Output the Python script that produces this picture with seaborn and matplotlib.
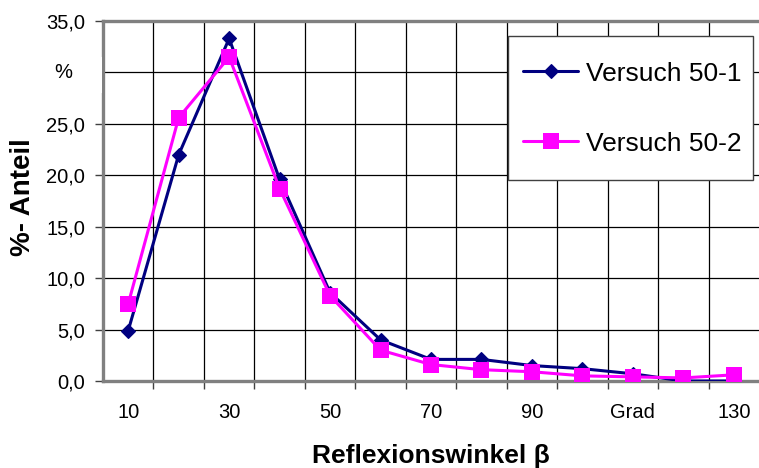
import matplotlib
matplotlib.use("Agg")
import matplotlib.pyplot as plt
import seaborn as sns
from matplotlib.patches import Rectangle
from matplotlib.transforms import blended_transform_factory

# Reflection angle categories (degrees) and share per angle in percent
angles = [10, 20, 30, 40, 50, 60, 70, 80, 90, 100, 110, 120, 130]
versuch_50_1 = [4.9, 22.0, 33.3, 19.6, 8.6, 4.0, 2.1, 2.1, 1.5, 1.2, 0.7, 0.0, 0.0]
versuch_50_2 = [7.5, 25.6, 31.5, 18.7, 8.3, 3.0, 1.6, 1.1, 0.9, 0.5, 0.4, 0.3, 0.6]

x_label_pos = [10, 30, 50, 70, 90, 110, 130]
x_labels = ["10", "30", "50", "70", "90", "Grad", "130"]
y_ticks = [0, 5, 10, 15, 20, 25, 30, 35]
y_labels = ["0,0", "5,0", "10,0", "15,0", "20,0", "25,0", "", "35,0"]

sns.set_theme(style="white")
plt.rcParams["font.family"] = ["Liberation Sans", "DejaVu Sans"]
plt.rcParams["text.color"] = "black"
plt.rcParams["axes.labelcolor"] = "black"
plt.rcParams["xtick.color"] = "black"
plt.rcParams["ytick.color"] = "black"

W, H = 759, 468
fig = plt.figure(figsize=(W / 100, H / 100), dpi=100)
ax = fig.add_axes([103 / W, (H - 381) / H, 656 / W, 360 / H])

navy = "#000080"
magenta = "#FF00FF"

sns.lineplot(x=angles, y=versuch_50_1, ax=ax, color=navy, lw=2.2,
             marker="D", markersize=7, markeredgewidth=0.8,
             markeredgecolor=navy, label="Versuch 50-1", zorder=4)
sns.lineplot(x=angles, y=versuch_50_2, ax=ax, color=magenta, lw=2.2,
             marker="s", markersize=11, markeredgewidth=0,
             label="Versuch 50-2", zorder=5)

ax.set_xlim(5, 135)
ax.set_ylim(0, 35)

# category boundaries carry the vertical grid and the small tick marks
boundaries = [a + 5 for a in angles[:-1]]
ax.set_xticks(boundaries, minor=True)
ax.set_xticks(x_label_pos)
ax.set_xticklabels(x_labels, fontsize=14.5)
ax.tick_params(axis="x", which="major", length=0, pad=16, labelcolor="black")
ax.tick_params(axis="x", which="minor", length=6, width=1, color="#404040",
               direction="out", bottom=True)
ax.set_yticks(y_ticks)
ax.set_yticklabels(y_labels, fontsize=14.5)
ax.tick_params(axis="y", which="major", length=6, width=1, color="#404040",
               direction="out", left=True, pad=7, labelcolor="black")

ax.grid(False)
ax.xaxis.grid(True, which="minor", color="black", lw=0.9)
ax.yaxis.grid(True, which="major", color="black", lw=0.9)
ax.set_axisbelow(True)

for side in ("left", "bottom", "top"):
    ax.spines[side].set_visible(True)
    ax.spines[side].set_color("#808080")
    ax.spines[side].set_linewidth(2.4)
ax.spines["right"].set_visible(False)

# "%" unit marker sitting in place of the 30 label
blend = blended_transform_factory(ax.transAxes, ax.transData)
ax.add_patch(Rectangle((-0.12, 28.0), 0.1185, 3.5, transform=blend,
                       facecolor="white", edgecolor="none", clip_on=False, zorder=3))
ax.text(-0.06, 30, "%", transform=blend, ha="center", va="center",
        fontsize=14.5, color="black", zorder=4)

ax.set_xlabel("Reflexionswinkel β", fontsize=19, fontweight="bold")
ax.xaxis.set_label_coords(0.5, -0.176)
ax.xaxis.label.set_va("top")
ax.set_ylabel("%- Anteil", fontsize=20, fontweight="bold")
ax.yaxis.set_label_coords(-0.1015, 0.51)

leg = ax.legend(loc="upper left", bbox_to_anchor=(0.617, 0.958, 0.374, 0.0),
                mode="expand", fontsize=19, frameon=True, fancybox=False,
                handlelength=2.1, handletextpad=0.3, labelspacing=0.98,
                handleheight=2.19, borderpad=0.57, borderaxespad=0)
leg.get_frame().set_edgecolor("#404040")
leg.get_frame().set_linewidth(1.0)
leg.get_frame().set_facecolor("white")
leg.get_frame().set_alpha(1)
for t in leg.get_texts():
    t.set_color("black")
# centre the legend keys on their labels
for ln in leg.get_lines():
    ln.set_ydata([y - 3.6 for y in ln.get_ydata()])

fig.savefig("out.png", dpi=100)
